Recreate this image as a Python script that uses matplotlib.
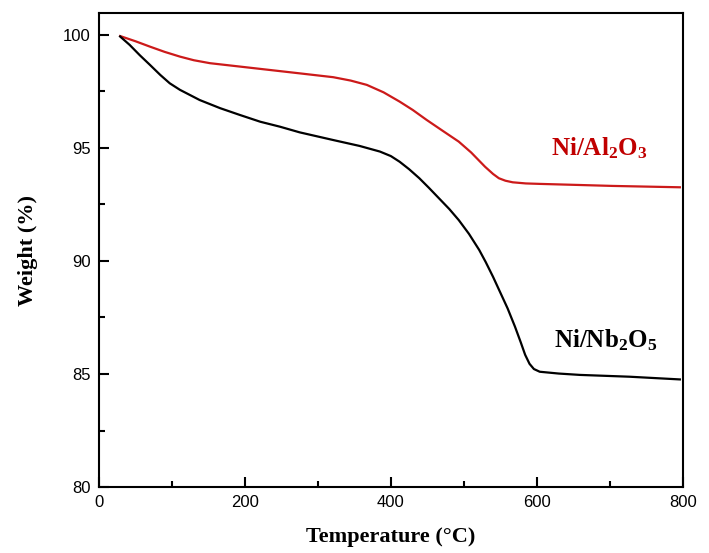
import numpy as np
import matplotlib
matplotlib.use("Agg")
import matplotlib.pyplot as plt
from matplotlib.ticker import MultipleLocator

plt.rcParams["font.family"] = ["Liberation Sans", "DejaVu Sans"]
plt.rcParams["mathtext.fontset"] = "custom"
plt.rcParams["mathtext.rm"] = "Liberation Serif:bold"
plt.rcParams["mathtext.it"] = "Liberation Serif:bold"
plt.rcParams["mathtext.bf"] = "Liberation Serif:bold"

# Ni/Al2O3 (red)
temp_al = [29, 50, 70, 90, 111, 130, 152, 193, 234, 275, 321, 345, 367, 390, 412, 430, 449,
           470, 493, 510, 529, 540, 548, 557, 567, 585, 604, 660, 704, 750, 796]
weight_al = [99.95, 99.72, 99.48, 99.25, 99.04, 98.88, 98.75, 98.6, 98.45, 98.3, 98.13, 97.98, 97.79, 97.46, 97.05, 96.68, 96.24,
             95.78, 95.28, 94.8, 94.17, 93.85, 93.66, 93.55, 93.48, 93.43, 93.41, 93.36, 93.32, 93.29, 93.26]

# Ni/Nb2O5 (black)
temp_nb = [29, 42, 56, 70, 84, 97, 111, 138, 166, 193, 221, 248, 275, 321, 357, 385, 400, 412, 425, 439, 452, 466,
           480, 493, 507, 521, 530, 540, 550, 560, 570, 578, 584, 590, 596, 604, 630, 659, 727, 796]
weight_nb = [99.93, 99.56, 99.1, 98.67, 98.23, 97.86, 97.57, 97.12, 96.76, 96.46, 96.16, 95.94, 95.69, 95.35, 95.09, 94.84, 94.64, 94.39, 94.06, 93.66, 93.24, 92.77,
             92.3, 91.81, 91.2, 90.49, 89.95, 89.3, 88.6, 87.9, 87.1, 86.4, 85.85, 85.45, 85.22, 85.1, 85.02, 84.96, 84.88, 84.76]

fig = plt.figure(figsize=(7.09, 5.53), dpi=100)
ax = fig.add_axes([0.1396, 0.1193, 0.8234, 0.8572])

ax.plot(temp_al, weight_al, color="#cc1a1a", linewidth=1.6)
ax.plot(temp_nb, weight_nb, color="black", linewidth=1.6)

ax.set_xlim(0, 800)
ax.set_ylim(80, 100.97)
ax.xaxis.set_major_locator(MultipleLocator(200))
ax.xaxis.set_minor_locator(MultipleLocator(100))
ax.yaxis.set_major_locator(MultipleLocator(5))
ax.yaxis.set_minor_locator(MultipleLocator(2.5))
ax.tick_params(which="both", direction="in", top=False, right=False, width=1.5, labelsize=12, pad=6)
ax.tick_params(which="major", length=7)
ax.tick_params(which="minor", length=4)
for s in ax.spines.values():
    s.set_linewidth(1.5)

ax.set_xlabel("Temperature (°C)", family="Liberation Serif", fontweight="bold",
              fontsize=16, labelpad=12)
ax.set_ylabel("Weight (%)", family="Liberation Serif", fontweight="bold", fontsize=16, labelpad=18)

ax.text(686, 95.0, r"Ni/Al$_2$O$_3$", color="#c00000", fontsize=18, ha="center", va="center",
        family="Liberation Serif", fontweight="bold")
ax.text(694, 86.5, r"Ni/Nb$_2$O$_5$", color="black", fontsize=18, ha="center", va="center",
        family="Liberation Serif", fontweight="bold")

fig.savefig("out.png", dpi=100)
plt.close(fig)
